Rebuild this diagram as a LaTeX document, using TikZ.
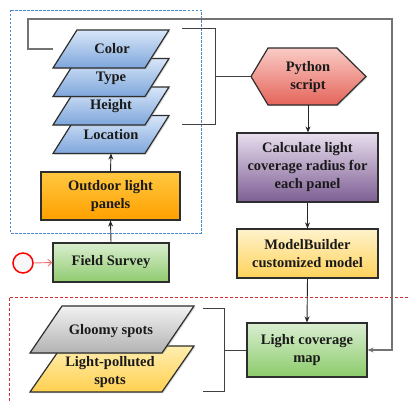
\documentclass[tikz,border=0pt]{standalone}
\usepackage{fontspec}
\setmainfont{Liberation Serif}
\usetikzlibrary{arrows.meta,shadows}
\definecolor{txt}{HTML}{1A1A1A}
\definecolor{edge}{HTML}{2E2E2E}
\tikzset{
  lbl/.style={align=center, text=txt, font=\bfseries\fontsize{14.5}{18}\selectfont, inner sep=0pt},
  box/.style={lbl, draw=edge, line width=1.2pt, drop shadow={shadow xshift=1.2pt, shadow yshift=-1.2pt, opacity=0.3}},
  shp/.style={draw=edge, line width=1.2pt, drop shadow={shadow xshift=1.2pt, shadow yshift=-1.2pt, opacity=0.3}},
  blueshp/.style={shp, top color=blueTop, bottom color=blueBot},
  arr/.style={draw=black!85, line width=0.9pt, -{Stealth[length=6pt,width=5pt]}},
  brk/.style={draw=black!75, line width=0.8pt},
  fb/.style={draw=black!55, line width=1.3pt, -{Stealth[length=6pt,width=5pt]}},
}
\definecolor{blueTop}{HTML}{D8E6F8}
\definecolor{blueBot}{HTML}{7EA6DC}
\begin{document}
\begin{tikzpicture}[x=1pt,y=-1pt]
\useasboundingbox (0,0) rectangle (408,401);
% dashed regions
\draw[draw={rgb,255:red,74;green,139;blue,208}, line width=0.9pt, dash pattern=on 2.5pt off 1.5pt] (10,10) rectangle (201,233);
\draw[draw={rgb,255:red,208;green,48;blue,48}, line width=0.8pt, dash pattern=on 3pt off 2pt] (408,297) -- (9,297) -- (9,401);
% stacked attributes
\path[blueshp] (77,115.5) -- (169,115.5) -- (145,153.5) -- (53,153.5) -- cycle;
\path[blueshp] (77,87) -- (169,87) -- (145,125) -- (53,125) -- cycle;
\path[blueshp] (77,58.5) -- (169,58.5) -- (145,96.5) -- (53,96.5) -- cycle;
\path[blueshp] (77,30) -- (169,30) -- (145,68) -- (53,68) -- cycle;
\node[lbl] (color) at (112,49) {Color};
\node[lbl] (type) at (111,78) {Type};
\node[lbl] (height) at (111,106.5) {Height};
\node[lbl] (loc) at (111,135) {Location};
\coordinate (locb) at (111,153.5);
% outdoor light panels
\node[box, minimum width=139pt, minimum height=48pt, top color={rgb,255:red,255;green,200;blue,64}, bottom color={rgb,255:red,255;green,160;blue,0}] (outdoor) at (110.5,196) {Outdoor light\\panels};
% field survey
\node[box, minimum width=116pt, minimum height=39pt, top color={rgb,255:red,218;green,238;blue,208}, bottom color={rgb,255:red,143;green,203;blue,110}] (field) at (111,262.5) {Field Survey};
\node[circle, draw=red, line width=1.5pt, fill=gray!6, minimum size=20pt, inner sep=0pt] (start) at (23,263) {};
\draw[draw={rgb,255:red,240;green,110;blue,110}, line width=0.9pt, -{Straight Barb[length=4pt,width=7pt]}] (start.east) -- (field.west);
\draw[arr] (field.north) -- (outdoor.south);
\draw[arr] (outdoor.north) -- (locb);
% python script
\path[shp, top color={rgb,255:red,249;green,204;blue,198}, bottom color={rgb,255:red,229;green,100;blue,90}] (251,76.5) -- (268,48) -- (337,48) -- (366,76.5) -- (337,105) -- (268,105) -- cycle;
\node[lbl] (py) at (308,77) {Python\\script};
\coordinate (pyw) at (251,76.5);
\coordinate (pyb) at (308,105);
% bracket from attributes to python
\draw[brk] (182,28) -- (215,28) -- (215,124) -- (182,124);
\coordinate (b1) at (215,76.5);
\draw[brk] (b1) -- (pyw);
% calculate
\node[box, minimum width=141pt, minimum height=69pt, top color={rgb,255:red,232;green,222;blue,238}, bottom color={rgb,255:red,125;green,94;blue,148}] (calc) at (307.5,167.5) {Calculate light\\coverage radius for\\each panel};
\draw[arr] (pyb) -- (pyb |- calc.north);
% model builder
\node[box, minimum width=141pt, minimum height=49pt, top color={rgb,255:red,255;green,243;blue,204}, bottom color={rgb,255:red,255;green,210;blue,90}] (mb) at (307.5,253.5) {ModelBuilder\\customized model};
\draw[arr] (calc.south) -- (mb.north);
% map
\node[box, minimum width=120pt, minimum height=54pt, top color={rgb,255:red,218;green,238;blue,210}, bottom color={rgb,255:red,139;green,203;blue,106}] (map) at (307,350) {Light coverage\\map};
\draw[arr] (mb.south) -- (map.north);
% spots
\path[shp, top color={rgb,255:red,255;green,238;blue,176}, bottom color={rgb,255:red,255;green,208;blue,80}] (62,346) -- (194,346) -- (162,392) -- (30,392) -- cycle;
\path[shp, top color={rgb,255:red,242;green,242;blue,242}, bottom color={rgb,255:red,178;green,178;blue,178}] (62,306) -- (194,306) -- (162,353) -- (30,353) -- cycle;
\node[lbl] (gloomy) at (111,331) {Gloomy spots};
\node[lbl] (lp) at (110,372) {Light-polluted\\spots};
\draw[brk] (203,308) -- (224,308) -- (224,391) -- (203,391);
\coordinate (b2) at (224,350);
\draw[brk] (b2) -- (map.west);
% feedback line
\coordinate (fbs) at (53,49);
\draw[fb] (fbs) -- (28,49) -- (28,19) -- (392,19) -- (392,350) -- (map.east);
\end{tikzpicture}
\end{document}
